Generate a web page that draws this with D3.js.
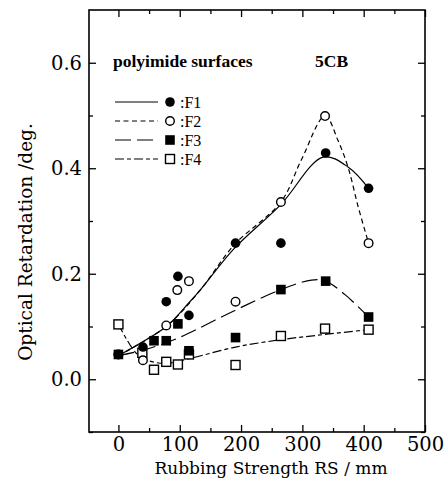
<!DOCTYPE html>
<html>
<head>
<meta charset="utf-8">
<script src="https://cdn.jsdelivr.net/npm/d3@7"></script>
<style>
  html, body { margin: 0; padding: 0; background: #fff; }
  svg { display: block; }
</style>
</head>
<body>
<svg id="chart" width="444" height="494"></svg>
<script>
// ---- data ----
const seriesNames = ["F1", "F2", "F3", "F4"];

const rsF1  = [0, 40, 78, 97, 115, 191, 265, 338, 408];
const valF1 = [0.047, 0.061, 0.147, 0.195, 0.121, 0.258, 0.258, 0.429, 0.362];

const rsF2  = [0, 40, 78, 96, 115, 191, 265, 337, 408];
const valF2 = [0.047, 0.036, 0.102, 0.169, 0.186, 0.147, 0.336, 0.499, 0.258];

const rsF3  = [0, 58, 78, 97, 115, 191, 265, 338, 408];
const valF3 = [0.047, 0.073, 0.073, 0.105, 0.054, 0.079, 0.170, 0.186, 0.118];

const rsF4  = [0, 39, 58, 78, 97, 115, 191, 265, 337, 408];
const valF4 = [0.104, 0.050, 0.018, 0.033, 0.028, 0.047, 0.027, 0.082, 0.096, 0.094];

// fitted guide curves
const fitRsF1  = [0, 20, 78, 115, 134, 189, 264, 334, 375, 408];
const fitValF1 = [0.045, 0.058, 0.100, 0.145, 0.170, 0.248, 0.330, 0.421, 0.402, 0.362];

const fitRsF2  = [0, 78, 134, 189, 265, 298, 337, 358, 375, 391, 408];
const fitValF2 = [0.045, 0.100, 0.170, 0.255, 0.336, 0.415, 0.499, 0.453, 0.400, 0.327, 0.258];

const fitRsF3  = [0, 40, 80, 107, 189, 265, 315, 338, 370, 386, 408];
const fitValF3 = [0.045, 0.055, 0.070, 0.083, 0.130, 0.170, 0.188, 0.186, 0.160, 0.143, 0.118];

const fitRsF4  = [0, 25, 41, 74, 115, 191, 265, 337, 408];
const fitValF4 = [0.104, 0.055, 0.039, 0.030, 0.039, 0.061, 0.075, 0.085, 0.094];

const xMajorTicks = [0, 100, 200, 300, 400, 500];
const xMinorTicks = [50, 150, 250, 350, 450];
const yMajorTicks = [0.0, 0.2, 0.4, 0.6];
const yMinorTicks = [-0.1, 0.1, 0.3, 0.5];

const xTitle = "Rubbing Strength RS / mm";
const yTitle = "Optical Retardation /deg.";
const noteLeft = "polyimide surfaces";
const noteRight = "5CB";

// ---- drawing ----
const svg = d3.select("#chart");
const L = 89, R = 425, T = 10, B = 432;
const x = d3.scaleLinear().domain([-48, 500]).range([L, R]);
const y = d3.scaleLinear().domain([-0.1, 0.7]).range([B, T]);

const serif = "'DejaVu Serif', serif";
const times = "'Liberation Serif', 'Times New Roman', serif";

function styleAxis(g, labels) {
  g.select(".domain").remove();
  g.selectAll(".tick line").attr("stroke", "#000").attr("stroke-width", 1.3);
  if (labels) g.selectAll(".tick text").attr("font-family", serif).attr("font-size", 19.5).attr("fill", "#000");
  else g.selectAll(".tick text").remove();
}

// bottom
svg.append("g").attr("transform", `translate(0,${B})`)
  .call(d3.axisBottom(x).tickValues(xMajorTicks).tickSize(-7).tickPadding(5).tickFormat(d3.format("d")))
  .call(g => styleAxis(g, true));
svg.append("g").attr("transform", `translate(0,${B})`)
  .call(d3.axisBottom(x).tickValues(xMinorTicks).tickSize(-4))
  .call(g => styleAxis(g, false));
// top
svg.append("g").attr("transform", `translate(0,${T})`)
  .call(d3.axisTop(x).tickValues(xMajorTicks).tickSize(-7))
  .call(g => styleAxis(g, false));
svg.append("g").attr("transform", `translate(0,${T})`)
  .call(d3.axisTop(x).tickValues(xMinorTicks).tickSize(-4))
  .call(g => styleAxis(g, false));
// left
svg.append("g").attr("transform", `translate(${L},0)`)
  .call(d3.axisLeft(y).tickValues(yMajorTicks).tickSize(-7).tickPadding(7).tickFormat(d3.format(".1f")))
  .call(g => styleAxis(g, true));
svg.append("g").attr("transform", `translate(${L},0)`)
  .call(d3.axisLeft(y).tickValues(yMinorTicks).tickSize(-4))
  .call(g => styleAxis(g, false));
// right
svg.append("g").attr("transform", `translate(${R},0)`)
  .call(d3.axisRight(y).tickValues(yMajorTicks).tickSize(-7))
  .call(g => styleAxis(g, false));
svg.append("g").attr("transform", `translate(${R},0)`)
  .call(d3.axisRight(y).tickValues(yMinorTicks).tickSize(-4))
  .call(g => styleAxis(g, false));

// frame
svg.append("rect").attr("x", L).attr("y", T).attr("width", R - L).attr("height", B - T)
  .attr("fill", "none").attr("stroke", "#000").attr("stroke-width", 1.6);

// titles
svg.append("text").attr("x", 271).attr("y", 474).attr("text-anchor", "middle")
  .attr("font-family", serif).attr("font-size", 17).text(xTitle);
svg.append("text").attr("transform", "translate(32,242) rotate(-90)").attr("text-anchor", "middle")
  .attr("font-family", serif).attr("font-size", 18.5).text(yTitle);

// annotations
svg.append("text").attr("x", 113).attr("y", 67).attr("font-family", times)
  .attr("font-weight", "bold").attr("font-size", 17.5).text(noteLeft);
svg.append("text").attr("x", 315).attr("y", 67).attr("font-family", times)
  .attr("font-weight", "bold").attr("font-size", 17.5).text(noteRight);

// series definitions
const dashes = { F1: null, F2: "5,3.5", F3: "16,6", F4: "9,3,4,3" };
const markers = { F1: "filledCircle", F2: "openCircle", F3: "filledSquare", F4: "openSquare" };
const pts = {
  F1: rsF1.map((d, i) => [d, valF1[i]]),
  F2: rsF2.map((d, i) => [d, valF2[i]]),
  F3: rsF3.map((d, i) => [d, valF3[i]]),
  F4: rsF4.map((d, i) => [d, valF4[i]])
};
const fits = {
  F1: fitRsF1.map((d, i) => [d, fitValF1[i]]),
  F2: fitRsF2.map((d, i) => [d, fitValF2[i]]),
  F3: fitRsF3.map((d, i) => [d, fitValF3[i]]),
  F4: fitRsF4.map((d, i) => [d, fitValF4[i]])
};

const line = d3.line().x(d => x(d[0])).y(d => y(d[1])).curve(d3.curveCatmullRom.alpha(0.5));

seriesNames.forEach(s => {
  svg.append("path").datum(fits[s]).attr("d", line)
    .attr("fill", "none").attr("stroke", "#000").attr("stroke-width", 1.2)
    .attr("stroke-dasharray", dashes[s]);
});

function drawMarker(g, type, cx, cy) {
  if (type === "filledCircle") {
    g.append("circle").attr("cx", cx).attr("cy", cy).attr("r", 4.8).attr("fill", "#000");
  } else if (type === "openCircle") {
    g.append("circle").attr("cx", cx).attr("cy", cy).attr("r", 4.3)
      .attr("fill", "#fff").attr("stroke", "#000").attr("stroke-width", 1.4);
  } else if (type === "filledSquare") {
    g.append("rect").attr("x", cx - 4.8).attr("y", cy - 4.8).attr("width", 9.6).attr("height", 9.6).attr("fill", "#000");
  } else {
    g.append("rect").attr("x", cx - 4.5).attr("y", cy - 4.5).attr("width", 9).attr("height", 9)
      .attr("fill", "#fff").attr("stroke", "#000").attr("stroke-width", 1.4);
  }
}

const mg = svg.append("g");
["F4", "F2", "F3", "F1"].forEach(s => {
  pts[s].forEach(p => drawMarker(mg, markers[s], x(p[0]), y(p[1])));
});

// legend
const lg = svg.append("g");
const legY = [102, 121, 140, 159];
seriesNames.forEach((s, i) => {
  lg.append("line").attr("x1", 115).attr("x2", 158).attr("y1", legY[i]).attr("y2", legY[i])
    .attr("stroke", "#000").attr("stroke-width", 1.2).attr("stroke-dasharray", dashes[s]);
  drawMarker(lg, markers[s], 170, legY[i]);
  lg.append("text").attr("x", 180).attr("y", legY[i] + 5.5).attr("font-family", times)
    .attr("font-size", 16).text(":" + s);
});
</script>
</body>
</html>
